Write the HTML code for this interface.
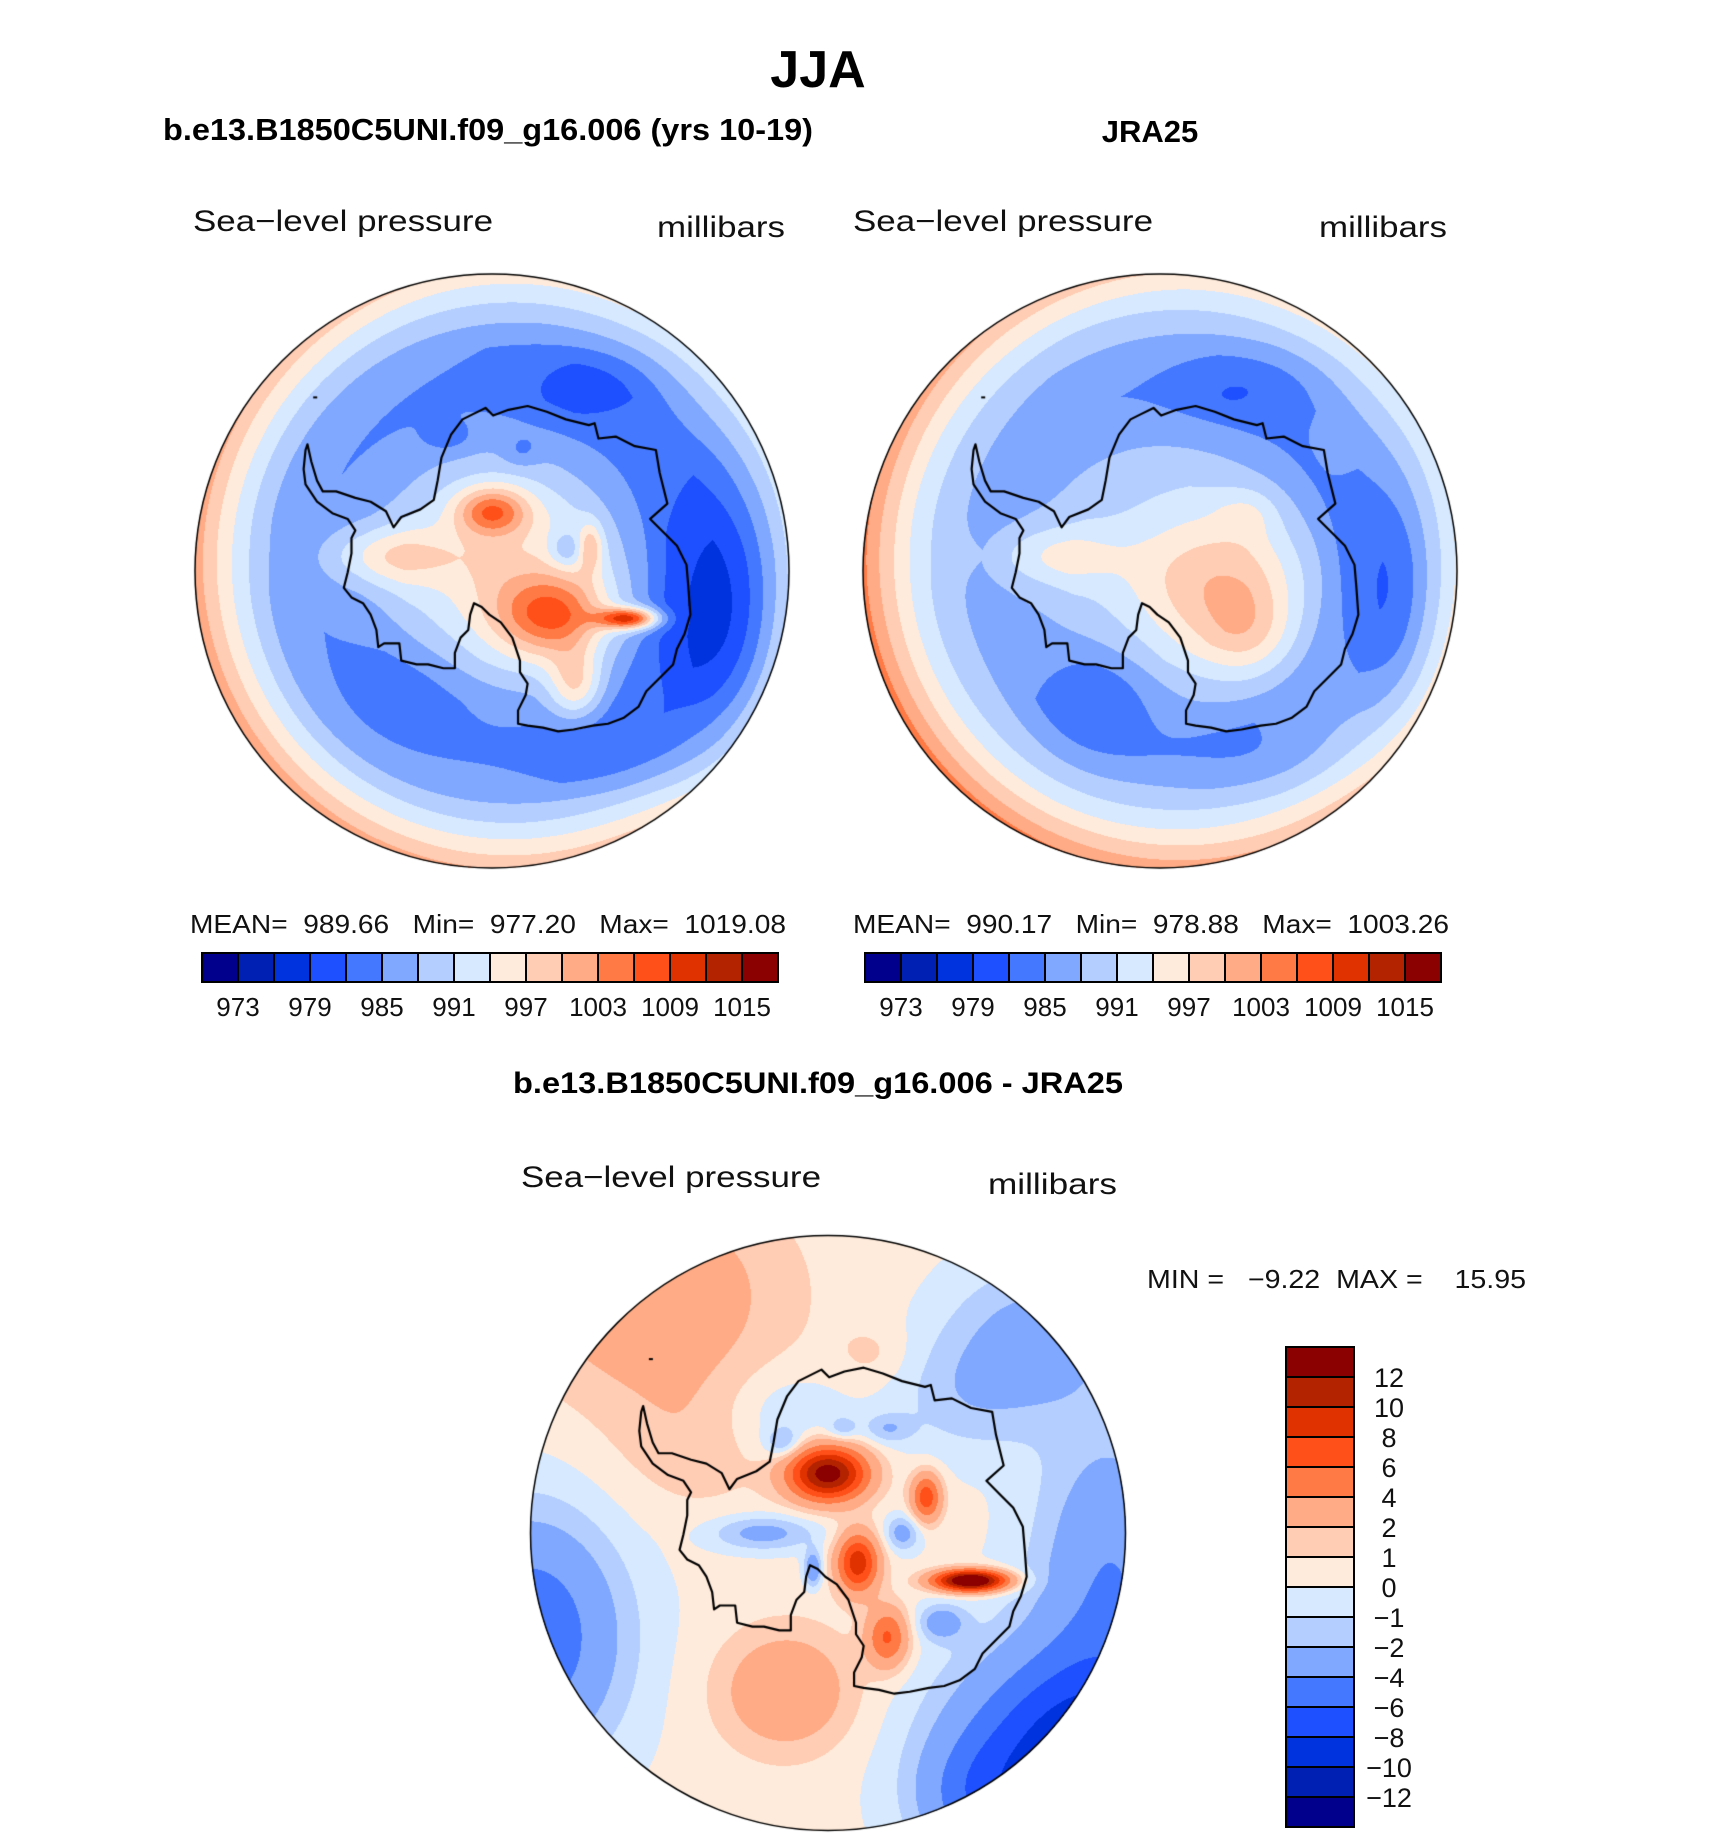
<!DOCTYPE html>
<html><head><meta charset="utf-8">
<style>
html,body{margin:0;padding:0;background:#fff;}
#root{position:relative;width:1710px;height:1839px;overflow:hidden;background:#fff;}
canvas{position:absolute;}
svg{position:absolute;left:0;top:0;}
text{font-family:"Liberation Sans",sans-serif;fill:#000;}
.b{font-weight:bold;}
.l{font-weight:normal;fill:#111;}
</style></head>
<body>
<div id="root">
<canvas id="mapA"></canvas>
<canvas id="mapB"></canvas>
<canvas id="mapC"></canvas>
<svg id="ov" width="1710" height="1839">
<text class="b" x="818" y="87" font-size="52" text-anchor="middle">JJA</text>
<text class="b" x="163" y="140" font-size="31" textLength="650" lengthAdjust="spacingAndGlyphs">b.e13.B1850C5UNI.f09_g16.006 (yrs 10-19)</text>
<text class="b" x="1150" y="142" font-size="31" text-anchor="middle">JRA25</text>
<text class="l" x="193" y="231" font-size="30" textLength="300" lengthAdjust="spacingAndGlyphs">Sea−level pressure</text>
<text class="l" x="657" y="237" font-size="30" textLength="128" lengthAdjust="spacingAndGlyphs">millibars</text>
<text class="l" x="853" y="231" font-size="30" textLength="300" lengthAdjust="spacingAndGlyphs">Sea−level pressure</text>
<text class="l" x="1319" y="237" font-size="30" textLength="128" lengthAdjust="spacingAndGlyphs">millibars</text>
<text class="l" x="190" y="933" font-size="26" textLength="596" lengthAdjust="spacingAndGlyphs" xml:space="preserve">MEAN=  989.66   Min=  977.20   Max=  1019.08</text>
<text class="l" x="853" y="933" font-size="26" textLength="596" lengthAdjust="spacingAndGlyphs" xml:space="preserve">MEAN=  990.17   Min=  978.88   Max=  1003.26</text>
<text class="b" x="513" y="1093" font-size="30" textLength="610" lengthAdjust="spacingAndGlyphs">b.e13.B1850C5UNI.f09_g16.006 - JRA25</text>
<text class="l" x="521" y="1187" font-size="30" textLength="300" lengthAdjust="spacingAndGlyphs">Sea−level pressure</text>
<text class="l" x="988" y="1194" font-size="30" textLength="129" lengthAdjust="spacingAndGlyphs">millibars</text>
<text class="l" x="1147" y="1288" font-size="26" textLength="379" lengthAdjust="spacingAndGlyphs" xml:space="preserve">MIN =   −9.22  MAX =    15.95</text>
<g id="cbA"></g>
<g id="cbB"></g>
<g id="cbC"></g>
</svg>
</div>
<script>
// ---- data ----
const colors = ["#00008c","#0020b4","#0032de","#1e50ff","#4478ff","#80a8ff","#b4ceff","#d6e9ff","#ffebdb","#ffccb4","#ffab85","#ff7a45","#ff5019","#e03200","#b42300","#8b0000"];
const levelsAbs = [973,976,979,982,985,988,991,994,997,1000,1003,1006,1009,1012,1015];
const tickLabelsAbs = ["973","979","985","991","997","1003","1009","1015"];
const levelsDiff = [-12,-10,-8,-6,-4,-2,-1,0,1,2,4,6,8,10,12];
const tickLabelsDiff = ["12","10","8","6","4","2","1","0","−1","−2","−4","−6","−8","−10","−12"];
const profR = [0,0.3,0.45,0.6,0.75,0.85,0.95,1.0];
const profModel = [993,990,986.5,984.5,986,990,995,998];
const profObs = [990,989.5,987.5,985.5,988,991.5,996.5,999.5];
const profDiff = [0.3,0.3,0.3,0.3,0.3,0.3,0.3,0.3];
const angModel = [-4,2];
const angObs = [-4.5,2.5];
const angDiff = [0,0];
// blobs: [cx, cy, sx, sy, amp]
const blobsModel = [
 [0.78,0.2,0.22,0.5,-8],[0.33,-0.63,0.24,0.13,-3.5],[-0.25,0.38,0.28,0.22,-3],[0.42,0.62,0.3,0.14,-3],
 [0.15,0.05,0.35,0.3,5],[0.0,-0.2,0.12,0.08,14],[0.46,0.16,0.1,0.035,22],[0.2,0.15,0.18,0.13,13],
 [0.28,0.38,0.09,0.12,10],[0.33,-0.08,0.04,0.08,8],[0.25,-0.07,0.06,0.06,-6],[-0.35,-0.05,0.22,0.1,8],
 [-0.15,-0.45,0.08,0.05,-3],[0.1,-0.4,0.06,0.05,-3]
];
const blobsObs = [
 [0.78,0.1,0.15,0.4,-5],[0.28,-0.62,0.25,0.12,-3.5],[-0.2,0.42,0.2,0.2,-5],[0.3,0.62,0.3,0.12,-2],
 [0.2,0.05,0.3,0.25,10],[0.3,0.22,0.15,0.15,5],[0.3,-0.2,0.1,0.08,3],[-0.35,-0.05,0.22,0.1,6]
];
const blobsDiff = [
 [-0.6,-0.8,0.45,0.35,3],[-0.45,-0.3,0.3,0.25,1.2],[-1.0,0.35,0.3,0.4,-6],[0.85,0.75,0.4,0.35,-10],
 [0.95,0.1,0.25,0.45,-4],[0.7,-0.65,0.3,0.25,-3],[-0.14,0.53,0.22,0.2,3.5],[-0.15,-0.4,0.2,0.15,-1.5],
 [0.15,-0.6,0.12,0.1,1.0],[0.5,0.9,0.2,0.2,-3],[0.0,-0.2,0.13,0.09,13],[0.1,0.1,0.07,0.1,9],
 [0.2,0.35,0.07,0.1,6],[0.48,0.16,0.12,0.035,16],[0.33,-0.12,0.05,0.08,7],[-0.22,0.0,0.18,0.06,-3],
 [0.25,0.0,0.06,0.06,-3],[0.38,0.3,0.08,0.06,-3],[-0.05,0.12,0.03,0.06,-4],[0.2,-0.35,0.08,0.05,-2],
 [0.45,-0.45,0.25,0.2,-1.5],[-0.15,-0.3,0.06,0.05,-2.5],[0.05,-0.35,0.05,0.04,-2]
];
// coastline traced (reference crop coords, centre 787,786, radius 777)
const coast = [[305,455],[315,500],[330,550],[345,578],[380,578],[430,595],[470,605],[510,630],[530,672],[550,645],[600,625],[635,600],[645,550],[655,490],[680,430],[710,390],[740,375],[770,360],[790,380],[830,365],[880,355],[930,370],[980,390],[1040,405],[1055,400],[1065,440],[1110,435],[1160,460],[1215,470],[1225,530],[1245,610],[1200,650],[1240,690],[1270,720],[1295,770],[1300,830],[1305,900],[1290,950],[1270,990],[1260,1030],[1230,1060],[1190,1100],[1170,1140],[1130,1170],[1090,1185],[1050,1190],[1000,1200],[960,1205],[920,1195],[880,1190],[855,1185],[855,1150],[875,1110],[880,1080],[860,1050],[860,1020],[840,960],[810,920],[780,900],[760,880],[740,870],[730,900],[725,940],[705,960],[690,1000],[690,1040],[660,1040],[620,1030],[590,1030],[550,1020],[545,975],[505,975],[490,985],[485,940],[470,900],[450,870],[420,855],[400,830],[410,790],[420,740],[420,700],[430,680],[410,650],[370,635],[330,605],[300,560],[295,520],[300,470]];

function interp(xs, ys, x){
  if(x<=xs[0]) return ys[0];
  for(let i=1;i<xs.length;i++){ if(x<=xs[i]){const t=(x-xs[i-1])/(xs[i]-xs[i-1]);return ys[i-1]+t*(ys[i]-ys[i-1]);} }
  return ys[ys.length-1];
}
function hex(c){return [parseInt(c.substr(1,2),16),parseInt(c.substr(3,2),16),parseInt(c.substr(5,2),16)];}
const rgb = colors.map(hex);

function drawMap(id, cx, cy, R, prof, ang, blobs, levels){
  const cv=document.getElementById(id);
  const S=Math.ceil(R)*2+4;
  cv.width=S; cv.height=S;
  cv.style.left=(cx-S/2)+'px'; cv.style.top=(cy-S/2)+'px';
  const ctx=cv.getContext('2d');
  const img=ctx.createImageData(S,S);
  for(let py=0;py<S;py++){
    for(let px=0;px<S;px++){
      const u=(px+0.5-S/2)/R, v=(py+0.5-S/2)/R;
      const r=Math.sqrt(u*u+v*v);
      if(r>1) continue;
      const w=Math.min(1,Math.max(0,(r-0.4)/0.6));
      let f=interp(profR,prof,r)+(ang[0]*u+ang[1]*v)*w;
      for(const b of blobs){
        const dx=(u-b[0])/b[2], dy=(v-b[1])/b[3];
        f+=b[4]*Math.exp(-(dx*dx+dy*dy));
      }
      let k=0; while(k<levels.length && f>=levels[k]) k++;
      const c=rgb[k], o=(py*S+px)*4;
      img.data[o]=c[0];img.data[o+1]=c[1];img.data[o+2]=c[2];img.data[o+3]=255;
    }
  }
  ctx.putImageData(img,0,0);
  ctx.strokeStyle='#000'; ctx.lineWidth=2.2; ctx.lineJoin='round';
  ctx.beginPath();
  coast.forEach((p,i)=>{const x=S/2+(p[0]-787)/777*R, y=S/2+(p[1]-786)/777*R; if(i)ctx.lineTo(x,y); else ctx.moveTo(x,y);});
  ctx.closePath(); ctx.stroke();
  ctx.fillStyle='#000';
  ctx.fillRect(S/2+(320-787)/777*R, S/2+(330-786)/777*R, 4, 2);
  ctx.beginPath(); ctx.arc(S/2,S/2,R-0.5,0,Math.PI*2); ctx.lineWidth=1.5; ctx.stroke();
}
drawMap('mapA',491.5,571,297.5,profModel,angModel,blobsModel,levelsAbs);
drawMap('mapB',1160,571,297.5,profObs,angObs,blobsObs,levelsAbs);
drawMap('mapC',827.5,1533,298,profDiff,angDiff,blobsDiff,levelsDiff);

const NS='http://www.w3.org/2000/svg';
function hBar(gid, x0, y0, bw, bh){
  const g=document.getElementById(gid);
  colors.forEach((c,i)=>{
    const r=document.createElementNS(NS,'rect');
    
    
    r.setAttribute('x',x0+i*bw);r.setAttribute('y',y0);r.setAttribute('width',bw);r.setAttribute('height',bh);
    r.setAttribute('fill',c);r.setAttribute('stroke','#000');r.setAttribute('stroke-width','2');
    g.appendChild(r);
  });
  tickLabelsAbs.forEach((t,j)=>{
    const tx=document.createElementNS(NS,'text');
    
    
    tx.setAttribute('x',x0+(1+2*j)*bw);tx.setAttribute('y',1016);
    tx.setAttribute('text-anchor','middle');tx.setAttribute('font-size','26');tx.setAttribute('class','l');
    tx.textContent=t; g.appendChild(tx);
  });
}
hBar('cbA',202,953,36,29);
hBar('cbB',865,953,36,29);
(function(){
  const g=document.getElementById('cbC');
  const x0=1286,y0=1347,bw=68,bh=30;
  colors.slice().reverse().forEach((c,i)=>{
    const r=document.createElementNS(NS,'rect');
    
    
    r.setAttribute('x',x0);r.setAttribute('y',y0+i*bh);r.setAttribute('width',bw);r.setAttribute('height',bh);
    r.setAttribute('fill',c);r.setAttribute('stroke','#000');r.setAttribute('stroke-width','2');
    g.appendChild(r);
  });
  tickLabelsDiff.forEach((t,j)=>{
    const tx=document.createElementNS(NS,'text');
    
    
    tx.setAttribute('x',1389);tx.setAttribute('y',y0+(j+1)*bh+10);
    tx.setAttribute('text-anchor','middle');tx.setAttribute('font-size','27');tx.setAttribute('class','l');
    tx.textContent=t; g.appendChild(tx);
  });
})();
</script>
</body></html>
